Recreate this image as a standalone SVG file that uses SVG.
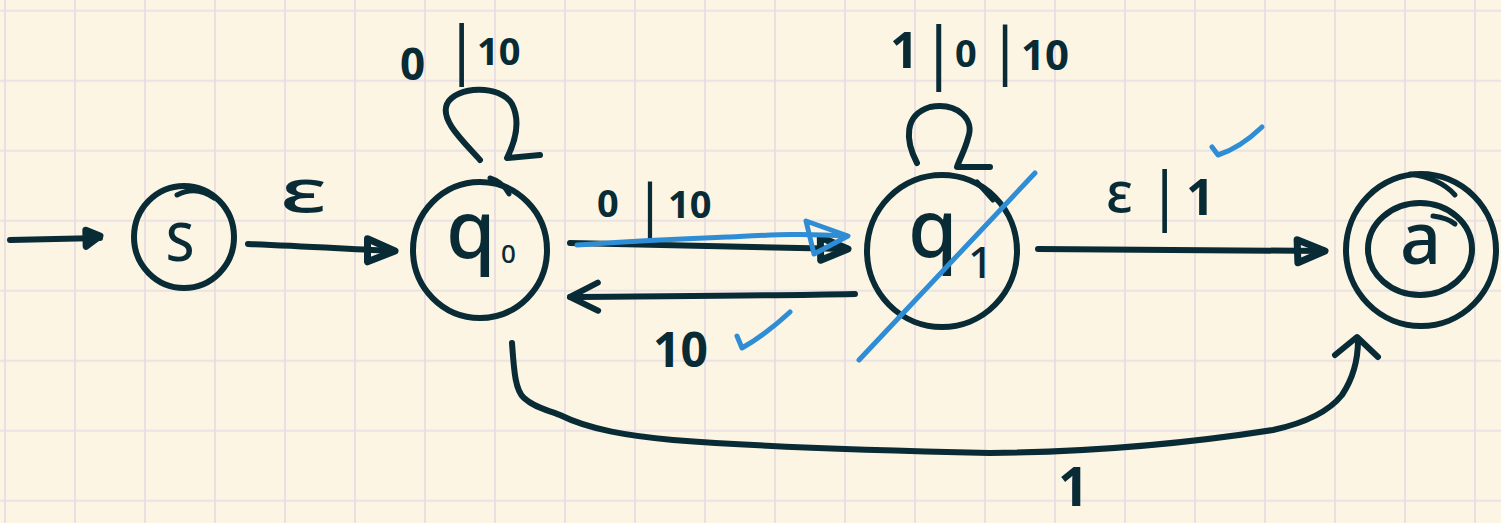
<svg xmlns="http://www.w3.org/2000/svg" width="1501" height="523" viewBox="0 0 1501 523">
<style>
.ink{fill:none;stroke:#082b35;stroke-width:6;stroke-linecap:round;stroke-linejoin:round}
.inkt{fill:none;stroke:#082b35;stroke-width:5;stroke-linecap:round;stroke-linejoin:round}
.blue{fill:none;stroke:#2f8dd6;stroke-width:5;stroke-linecap:round;stroke-linejoin:round}
.t{font-family:"Noto Sans","DejaVu Sans",sans-serif;font-weight:700;fill:#082b35}
.b{font-weight:400}
.e{font-weight:500}
.n{font-family:"Noto Sans","DejaVu Sans",sans-serif;font-weight:500;fill:#082b35}
</style>
<defs>
<pattern id="grid" patternUnits="userSpaceOnUse" x="-30" y="-24.3" width="70" height="70">
<path d="M35,0 V70 M0,35 H70" stroke="#e6dbe4" stroke-width="1.6" fill="none"/>
</pattern>
<marker id="tri" markerUnits="userSpaceOnUse" viewBox="-40 -20 46 40" refX="0" refY="0" markerWidth="46" markerHeight="40" orient="auto">
<path d="M-28,-11 L0,0 L-27,12 Z" fill="none" stroke="#082b35" stroke-width="7" stroke-linejoin="round"/>
</marker>
<marker id="tris" markerUnits="userSpaceOnUse" viewBox="-30 -16 36 32" refX="0" refY="0" markerWidth="36" markerHeight="32" orient="auto">
<path d="M-14,-8 L0,-2 L-14,8 Z" fill="none" stroke="#082b35" stroke-width="7" stroke-linejoin="round"/>
</marker>
<marker id="chev" markerUnits="userSpaceOnUse" viewBox="-40 -20 46 40" refX="0" refY="0" markerWidth="46" markerHeight="40" orient="auto">
<path d="M-28,-14 L0,0 L-28,14" fill="none" stroke="#082b35" stroke-width="6" stroke-linecap="round" stroke-linejoin="round"/>
</marker>
</defs>
<rect width="1501" height="523" fill="#fcf5e3"/>
<rect width="1501" height="523" fill="url(#grid)"/>

<g id="connectors">
<path class="ink" d="M10,240 L100,238" marker-end="url(#tris)"/>
<path class="ink" d="M248,244 C300,246 350,249 395,251" marker-end="url(#tri)"/>
<path class="ink" d="M480,160 C462,140 440,120 447,104 C456,86 500,84 512,104 C520,120 516,140 507,158 L540,155"/>
<path class="ink" d="M570,243 C650,244 740,246 848,249" marker-end="url(#tri)"/>
<path class="ink" d="M855,294 C760,296 660,296 570,297" marker-end="url(#chev)"/>
<path class="ink" d="M917,163 C905,140 904,115 930,107 C958,102 975,120 968,138 C965,150 960,158 957,167 L990,167"/>
<path class="ink" d="M1038,249 C1120,249 1220,250 1325,251" marker-end="url(#tri)"/>
<path class="ink" d="M512,343 C514,370 515,390 524,398 C535,408 548,410 560,415 C590,430 630,436 673,440 C750,446 850,450 990,453 C1100,452 1190,443 1273,430 C1310,422 1330,410 1342,395 C1354,377 1358,360 1358,340"/>
<path class="ink" d="M1335,355 L1357,337 L1378,357"/>
</g>

<g id="labels">
<text class="t"><tspan x="400" y="80" font-size="44">0</tspan><tspan class="b" x="444" y="72" font-size="64">|</tspan><tspan x="477" y="65" font-size="38">10</tspan></text>
<text class="t e" x="280" y="212" font-size="60" textLength="47" lengthAdjust="spacingAndGlyphs">ε</text>
<text class="t"><tspan x="597" y="217" font-size="38">0</tspan><tspan class="b" x="634" y="226" font-size="58">|</tspan><tspan x="668" y="218" font-size="38">10</tspan></text>
<text class="t"><tspan x="890" y="68" font-size="50">1</tspan><tspan class="b" x="920" y="76" font-size="68">|</tspan><tspan x="955" y="67" font-size="38">0</tspan><tspan class="b" x="988" y="72" font-size="62">|</tspan><tspan x="1021" y="70" font-size="42">10</tspan></text>
<text class="t"><tspan class="e" x="1106" y="212" font-size="56">ε</tspan><tspan class="b" x="1147" y="218" font-size="64">|</tspan><tspan x="1186" y="215" font-size="50">1</tspan></text>
<text class="t" x="653" y="367" font-size="48">10</text>
<text class="t" x="1058" y="506" font-size="54">1</text>
</g>

<g id="node-s">
<ellipse class="ink" cx="184" cy="237" rx="50" ry="51"/>
<path class="inkt" d="M177,195 Q196,185 214,198"/>
<text class="n" x="180" y="261" font-size="52" text-anchor="middle">S</text>
</g>

<g id="node-q0">
<ellipse class="ink" cx="480" cy="250" rx="67" ry="68"/>
<path class="inkt" d="M490,178 Q503,182 509,194"/>
<text class="n"><tspan x="446" y="258" font-size="80">q</tspan><tspan x="501" y="263" font-size="26">0</tspan></text>
</g>

<g id="node-q1">
<ellipse class="ink" cx="942" cy="251" rx="75" ry="76"/>
<path class="inkt" d="M977,182 L993,200"/>
<text class="n"><tspan x="908" y="257" font-size="80">q</tspan><tspan x="968" y="278" font-size="44">1</tspan></text>
</g>

<g id="node-a">
<ellipse class="ink" cx="1421" cy="250" rx="75" ry="76"/>
<path class="inkt" d="M1410,174 Q1440,178 1455,195"/>
<ellipse class="ink" cx="1420" cy="249" rx="52" ry="46"/>
<path class="inkt" d="M1433,216 Q1448,218 1455,224"/>
<text class="n" x="1400" y="264" font-size="72">a</text>
</g>

<g id="annotations">
<path class="blue" d="M577,245 C620,242 650,240 727,237 C770,235 800,233 847,236"/>
<path class="blue" d="M806,221 L848,236 L814,254 Z"/>
<path class="blue" d="M859,360 L1035,173"/>
<path class="blue" d="M737,336 L742,348 Q765,335 790,312"/>
<path class="blue" d="M1212,147 L1218,155 Q1240,148 1262,127"/>
</g>
</svg>
